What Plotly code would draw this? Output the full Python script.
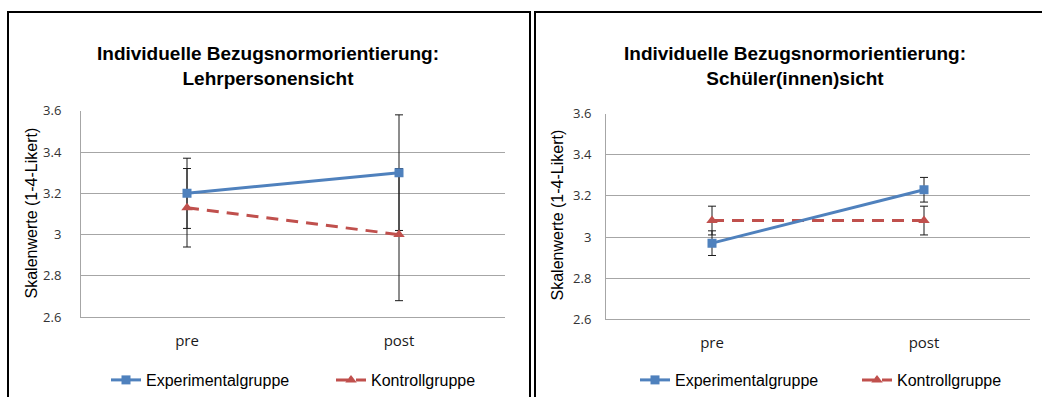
import plotly.graph_objects as go

W, H = 1042, 397

categories = ["pre", "post"]

# Left chart: Lehrpersonensicht
left_exp = [3.20, 3.30]
left_exp_err = [0.17, 0.28]
left_kon = [3.13, 3.00]
left_kon_err = [0.19, 0.32]

# Right chart: Schüler(innen)sicht
right_exp = [2.97, 3.23]
right_exp_err = [0.06, 0.06]
right_kon = [3.08, 3.08]
right_kon_err = [0.07, 0.07]

titles = ["Individuelle Bezugsnormorientierung:<br>Lehrpersonensicht",
          "Individuelle Bezugsnormorientierung:<br>Schüler(innen)sicht"]
y_title = "Skalenwerte (1-4-Likert)"
series_names = ["Experimentalgruppe", "Kontrollgruppe"]
y_ticks = [2.6, 2.8, 3.0, 3.2, 3.4, 3.6]

BLUE = "#4F81BD"
RED = "#C0504D"
GRID = "#A6A6A6"
ARIAL = "Liberation Sans, Arial, sans-serif"
TICKF = "Open Sans, sans-serif"


def px(x):
    return x / W


def py(y):
    return 1 - y / H


fig = go.Figure()

panels = [
    dict(exp=left_exp, exp_err=left_exp_err, kon=left_kon, kon_err=left_kon_err,
         xa="x", ya="y", legs=("legend", "legend2")),
    dict(exp=right_exp, exp_err=right_exp_err, kon=right_kon, kon_err=right_kon_err,
         xa="x2", ya="y2", legs=("legend3", "legend4")),
]

for p in panels:
    # error bars underneath all lines and markers
    for vals, errs in ((p["kon"], p["kon_err"]), (p["exp"], p["exp_err"])):
        fig.add_trace(go.Scatter(
            x=categories, y=vals, mode="markers",
            marker=dict(size=1, opacity=0),
            error_y=dict(type="data", array=errs, visible=True,
                         color="#1a1a1a", thickness=1, width=4),
            showlegend=False, hoverinfo="skip",
            xaxis=p["xa"], yaxis=p["ya"]))
    fig.add_trace(go.Scatter(
        x=categories, y=p["kon"], mode="lines+markers", name=series_names[1],
        line=dict(color=RED, width=3, dash="12px,8px"),
        marker=dict(symbol="triangle-up", size=10, color=RED),
        legend=p["legs"][1], xaxis=p["xa"], yaxis=p["ya"]))
    fig.add_trace(go.Scatter(
        x=categories, y=p["exp"], mode="lines+markers", name=series_names[0],
        line=dict(color=BLUE, width=3),
        marker=dict(symbol="square", size=9, color=BLUE),
        legend=p["legs"][0], xaxis=p["xa"], yaxis=p["ya"]))


def y_axis(standoff):
    return dict(range=[2.6, 3.6], tickvals=y_ticks, showgrid=True,
                gridcolor=GRID, gridwidth=1, showline=True, linecolor=GRID,
                linewidth=1, zeroline=False, ticks="", automargin=False,
                ticklabelstandoff=standoff,
                tickfont=dict(family=TICKF, size=13, color="#333333"))


axis_common_x = dict(type="category", range=[-0.5, 1.5], showgrid=False,
                     showline=True, linecolor=GRID, linewidth=1, ticks="",
                     zeroline=False, ticklabelstandoff=10, automargin=False,
                     tickfont=dict(family=TICKF, size=15, color="#1a1a1a"))

legend_common = dict(orientation="h", yanchor="middle", xanchor="left",
                     font=dict(family=ARIAL, size=16, color="#000000"),
                     bgcolor="rgba(0,0,0,0)", borderwidth=0)

fig.update_layout(
    template="none",
    width=W, height=H, autosize=False,
    margin=dict(l=0, r=0, t=0, b=0, pad=0),
    paper_bgcolor="white", plot_bgcolor="white",
    xaxis=dict(domain=[px(81), px(505)], anchor="y", **axis_common_x),
    yaxis=dict(domain=[py(318), py(111)], anchor="x", **y_axis(16)),
    xaxis2=dict(domain=[px(606), px(1030)], anchor="y2", **axis_common_x),
    yaxis2=dict(domain=[py(320), py(114)], anchor="x2", **y_axis(11)),
    legend=dict(x=px(106), y=py(380), **legend_common),
    legend2=dict(x=px(331), y=py(380), **legend_common),
    legend3=dict(x=px(635), y=py(381), **legend_common),
    legend4=dict(x=px(857), y=py(381), **legend_common),
    showlegend=True,
)

# chart frames
fig.add_shape(type="rect", xref="paper", yref="paper",
              x0=px(8), x1=px(530), y0=-0.1, y1=py(12),
              line=dict(color="#000000", width=2), fillcolor="rgba(0,0,0,0)")
fig.add_shape(type="rect", xref="paper", yref="paper",
              x0=px(535), x1=1.1, y0=-0.1, y1=py(12),
              line=dict(color="#000000", width=2), fillcolor="rgba(0,0,0,0)")

# titles
for t, cx in zip(titles, (268, 795)):
    fig.add_annotation(text="<b>" + t + "</b>", xref="paper", yref="paper",
                       x=px(cx), y=py(66), xanchor="center", yanchor="middle",
                       showarrow=False, align="center",
                       font=dict(family=ARIAL, size=19, color="#000000"))

# y-axis titles
for cx, cy in ((31, 214), (557, 216)):
    fig.add_annotation(text=y_title, xref="paper", yref="paper",
                       x=px(cx), y=py(cy), xanchor="center", yanchor="middle",
                       textangle=-90, showarrow=False,
                       font=dict(family=ARIAL, size=16, color="#000000"))

fig.write_html("out.html", config={"displayModeBar": False},
               post_script="document.body.style.margin='0';")
